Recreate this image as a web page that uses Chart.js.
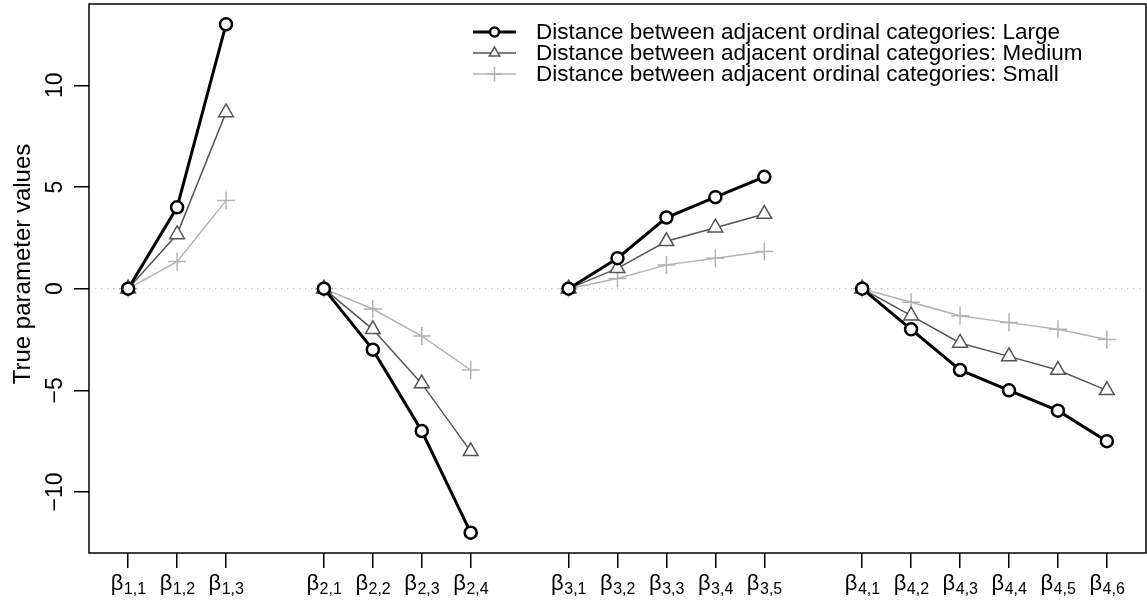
<!DOCTYPE html>
<html>
<head>
<meta charset="utf-8">
<script src="https://cdn.jsdelivr.net/npm/chart.js@4.4.1/dist/chart.umd.min.js"></script>
<style>
  html, body { margin: 0; padding: 0; background: #fff; }
  canvas { display: block; }
</style>
</head>
<body>
<canvas id="chart" width="1147" height="606"></canvas>
<script>
  'use strict';

  // Tick positions (with a blank slot between groups) and their labels.
  var tickPositions = [1, 2, 3, 5, 6, 7, 8, 10, 11, 12, 13, 14, 16, 17, 18, 19, 20, 21];
  var tickGroups = ['1,1', '1,2', '1,3', '2,1', '2,2', '2,3', '2,4', '3,1', '3,2', '3,3', '3,4', '3,5',
    '4,1', '4,2', '4,3', '4,4', '4,5', '4,6'];
  var gapPositions = [4, 9, 15];
  var yTicks = [-10, -5, 0, 5, 10];

  // True parameter values per distance setting.
  var largeValues = [0, 4, 13, 0, -3, -7, -12, 0, 1.5, 3.5, 4.5, 5.5, 0, -2, -4, -5, -6, -7.5];
  var mediumValues = [0, 2.67, 8.67, 0, -2, -4.67, -8, 0, 1, 2.33, 3, 3.67, 0, -1.33, -2.67, -3.33, -4, -5];
  var smallValues = [0, 1.33, 4.33, 0, -1, -2.33, -4, 0, 0.5, 1.17, 1.5, 1.83, 0, -0.67, -1.33, -1.67, -2, -2.5];

  var seriesLabels = [
    'Distance between adjacent ordinal categories: Large',
    'Distance between adjacent ordinal categories: Medium',
    'Distance between adjacent ordinal categories: Small'
  ];

  var FONT = '"Liberation Sans", Arial, Helvetica, sans-serif';

  // Builds {x, y} points, with a null at each gap so the line breaks between groups.
  function buildPoints(values) {
    var pts = [];
    for (var i = 0; i < tickPositions.length; i++) {
      pts.push({ x: tickPositions[i], y: values[i] });
    }
    gapPositions.forEach(function (g) { pts.push({ x: g, y: null }); });
    pts.sort(function (a, b) { return a.x - b.x; });
    return pts;
  }

  var datasets = [
    {
      label: seriesLabels[0],
      data: buildPoints(largeValues),
      borderColor: '#000000',
      backgroundColor: '#ffffff',
      borderWidth: 3,
      pointStyle: 'circle',
      pointRadius: 6,
      pointBorderWidth: 2.5,
      pointBackgroundColor: '#ffffff',
      legendRadius: 4.5
    },
    {
      label: seriesLabels[1],
      data: buildPoints(mediumValues),
      borderColor: '#555555',
      backgroundColor: '#ffffff',
      borderWidth: 1.5,
      pointStyle: 'triangle',
      pointRadius: 8.5,
      pointBorderWidth: 1.5,
      pointBackgroundColor: '#ffffff',
      legendRadius: 6
    },
    {
      label: seriesLabels[2],
      data: buildPoints(smallValues),
      borderColor: '#b3b3b3',
      backgroundColor: '#b3b3b3',
      borderWidth: 1.5,
      pointStyle: 'cross',
      pointRadius: 9,
      pointBorderWidth: 1.5,
      pointBackgroundColor: '#b3b3b3',
      legendRadius: 7.5
    }
  ];

  // Draws the R-style frame, labels and legend.
  var rStylePlugin = {
    id: 'rStyle',
    beforeDatasetsDraw: function (chart) {
      var ctx = chart.ctx;
      var area = chart.chartArea;
      var y0 = chart.scales.y.getPixelForValue(0);
      ctx.save();
      ctx.strokeStyle = '#bdbdbd';
      ctx.lineWidth = 1;
      ctx.setLineDash([1.5, 4.5]);
      ctx.beginPath();
      ctx.moveTo(area.left, y0);
      ctx.lineTo(area.right, y0);
      ctx.stroke();
      ctx.restore();
    },
    afterDraw: function (chart) {
      var ctx = chart.ctx;
      var area = chart.chartArea;
      var xs = chart.scales.x;
      var ys = chart.scales.y;
      ctx.save();

      // Frame.
      ctx.strokeStyle = '#000';
      ctx.lineWidth = 1.5;
      ctx.strokeRect(area.left, area.top, area.right - area.left, area.bottom - area.top);

      // Y tick labels, rotated.
      ctx.fillStyle = '#000';
      ctx.font = '23px ' + FONT;
      ctx.textAlign = 'center';
      ctx.textBaseline = 'alphabetic';
      yTicks.forEach(function (v) {
        var py = ys.getPixelForValue(v);
        ctx.save();
        ctx.translate(62, py);
        ctx.rotate(-Math.PI / 2);
        ctx.fillText(v < 0 ? '\u2212' + Math.abs(v) : String(v), 0, 0);
        ctx.restore();
      });

      // Y axis title.
      ctx.save();
      ctx.font = '24px ' + FONT;
      ctx.translate(30, 264);
      ctx.rotate(-Math.PI / 2);
      ctx.fillText('True parameter values', 0, 0);
      ctx.restore();

      // X tick labels: beta with subscript.
      ctx.textAlign = 'left';
      tickPositions.forEach(function (p, i) {
        var px = xs.getPixelForValue(p);
        ctx.font = '22px ' + FONT;
        var wb = ctx.measureText('\u03b2').width;
        ctx.font = '16px ' + FONT;
        var ws = ctx.measureText(tickGroups[i]).width;
        var start = px - (wb + ws) / 2;
        ctx.font = '22px ' + FONT;
        ctx.fillText('\u03b2', start, 590);
        ctx.font = '16px ' + FONT;
        ctx.fillText(tickGroups[i], start + wb + 0.5, 594);
      });

      // Legend.
      var lx0 = 473, lx1 = 516, tx = 536;
      var rowY = [32, 53, 74];
      ctx.font = '22.5px ' + FONT;
      ctx.textBaseline = 'middle';
      chart.data.datasets.forEach(function (ds, i) {
        var y = rowY[i];
        ctx.strokeStyle = ds.borderColor;
        ctx.lineWidth = ds.borderWidth;
        ctx.beginPath();
        ctx.moveTo(lx0, y);
        ctx.lineTo(lx1, y);
        ctx.stroke();
        ctx.fillStyle = ds.pointBackgroundColor;
        ctx.lineWidth = ds.pointBorderWidth;
        Chart.helpers.drawPoint(ctx, {
          pointStyle: ds.pointStyle,
          radius: ds.legendRadius,
          borderWidth: ds.pointBorderWidth,
          rotation: 0
        }, (lx0 + lx1) / 2, y);
        ctx.fillStyle = '#000';
        ctx.fillText(ds.label, tx, y + 1);
      });

      ctx.restore();
    }
  };

  var ctx = document.getElementById('chart').getContext('2d');
  var chart = new Chart(ctx, {
    type: 'line',
    data: { datasets: datasets },
    options: {
      responsive: false,
      devicePixelRatio: 1,
      animation: false,
      spanGaps: false,
      layout: { autoPadding: false, padding: { top: 4, right: 1, left: 0, bottom: 0 } },
      elements: { line: { tension: 0, fill: false } },
      plugins: {
        legend: { display: false },
        tooltip: { enabled: false }
      },
      scales: {
        x: {
          type: 'linear',
          min: 0.2,
          max: 21.8,
          afterBuildTicks: function (scale) {
            scale.ticks = tickPositions.map(function (v) { return { value: v }; });
          },
          afterFit: function (scale) { scale.height = 53; },
          ticks: { display: false },
          border: { display: false },
          grid: { drawOnChartArea: false, drawTicks: true, tickLength: 15, color: '#000', lineWidth: 1.5 }
        },
        y: {
          type: 'linear',
          min: -13,
          max: 14,
          afterBuildTicks: function (scale) {
            scale.ticks = yTicks.map(function (v) { return { value: v }; });
          },
          afterFit: function (scale) { scale.width = 89; },
          ticks: { display: false },
          border: { display: false },
          grid: { drawOnChartArea: false, drawTicks: true, tickLength: 15, color: '#000', lineWidth: 1.5 }
        }
      }
    },
    plugins: [rStylePlugin]
  });
</script>
</body>
</html>
